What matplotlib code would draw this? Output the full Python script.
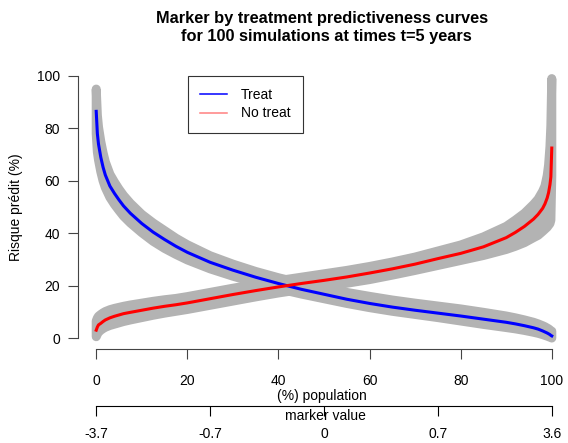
import matplotlib
matplotlib.use('Agg')
import matplotlib.pyplot as plt
from matplotlib.lines import Line2D

plt.rcParams['font.family'] = ['Liberation Sans', 'DejaVu Sans']

# population percentile (%)
pct = [0, 0.25, 0.5, 1, 1.5, 2, 3, 4, 5, 6, 7.5, 10, 12.5, 15, 17.5, 20, 25, 30, 35, 40,
       45, 50, 55, 60, 65, 70, 75, 80, 85, 90, 92, 94, 96, 97, 98, 98.5, 99, 99.3, 99.6, 99.8, 100]

# mean predicted risk, treated arm
treat = [86.5, 78, 74, 69, 65.2, 62.2, 58, 55.2, 52.7, 50.4, 47.6, 43.7, 40.4, 37.6, 35, 32.7, 28.9, 25.9, 23.2, 20.8,
         18.6, 16.7, 14.8, 13.2, 11.8, 10.6, 9.5, 8.4, 7.2, 6, 5.4, 4.7, 3.9, 3.4, 2.7, 2.3, 1.9, 1.6, 1.3, 1.0, 0.8]
# envelope of the 100 simulated curves, treated arm
treat_lo = [78, 71, 68, 63.5, 60, 57.4, 53.7, 51, 48.7, 46.5, 43.9, 40.2, 36.9, 34.2, 31.9, 29.8, 26.4, 23.6, 21.1, 18.8,
            16.8, 15, 13.2, 11.6, 10.2, 9, 7.8, 6.5, 5.2, 4, 3.5, 2.9, 2.2, 1.8, 1.3, 1.0, 0.7, 0.5, 0.3, 0.15, 0]
treat_hi = [95, 85, 80.5, 75, 70.7, 67.2, 62.5, 59.5, 56.8, 54.4, 51.4, 47.2, 43.9, 41, 38.1, 35.6, 31.4, 28.2, 25.4, 23,
            20.9, 19.2, 17.4, 15.9, 14.5, 13.3, 12.2, 11.1, 9.8, 8.4, 7.7, 6.9, 6, 5.4, 4.7, 4.3, 3.8, 3.5, 3.1, 2.8, 2.6]

# mean predicted risk, untreated arm
notreat = [3, 4.2, 5, 5.6, 6.3, 6.9, 7.7, 8.3, 8.8, 9.3, 9.8, 10.6, 11.4, 12.1, 12.7, 13.4, 15, 16.6, 18.1, 19.5,
           20.8, 22, 23.3, 24.8, 26.4, 28.2, 30.3, 32.3, 34.8, 38.3, 40.3, 42.6, 45.4, 47.2, 49.5, 51.2, 53.5, 55.5, 58.5, 61.5, 72.5]
notreat_lo = [0.5, 1.5, 2.2, 3, 3.6, 4.1, 4.8, 5.3, 5.8, 6.3, 6.9, 7.8, 8.7, 9.5, 10.2, 10.9, 12.5, 14.1, 15.7, 17.2,
              18.5, 19.6, 20.9, 22.3, 24, 25.8, 27.7, 29.6, 31.5, 33.8, 35, 36.4, 38.3, 39.2, 40.7, 41.5, 42.3, 43, 43.7, 45, 62]
notreat_hi = [6.5, 7.6, 8.3, 9, 9.6, 10.1, 10.8, 11.3, 11.7, 12.1, 12.6, 13.3, 14, 14.6, 15.1, 15.8, 17.4, 19, 20.5, 21.9,
              23.2, 24.5, 25.8, 27.3, 29, 30.9, 33.2, 35.5, 38.6, 42.6, 45, 47.6, 51, 53, 56, 58, 62, 66, 73, 81, 99]

# marker quantiles on the second axis
marker_pos = [0, 25, 50, 75, 100]
marker_lab = ['-3.7', '-0.7', '0', '0.7', '3.6']

W, H = 568, 443
fig = plt.figure(figsize=(W / 100, H / 100), dpi=100)
ax = fig.add_axes([78 / W, (H - 348.5) / H, (570 - 78) / W, 283 / H])
ax.set_xlim(-4, 104)
ax.set_ylim(-4, 104)

grey = '#b3b3b3'
for lo, hi in [(treat_lo, treat_hi), (notreat_lo, notreat_hi)]:
    ax.fill(pct + pct[::-1], hi + lo[::-1], facecolor=grey, edgecolor=grey,
            lw=6.5, joinstyle='round')

ax.plot(pct, treat, color='#0000ff', lw=2.2)
ax.plot(pct, notreat, color='#ff0000', lw=2.2)

axcol = '#444444'
for s in ['top', 'right']:
    ax.spines[s].set_visible(False)
ax.spines['left'].set_bounds(0, 100)
ax.spines['bottom'].set_bounds(0, 100)
for s in ['left', 'bottom']:
    ax.spines[s].set_color(axcol)
    ax.spines[s].set_linewidth(0.8)
ax.set_xticks([0, 20, 40, 60, 80, 100])
ax.set_yticks([0, 20, 40, 60, 80, 100])
ax.tick_params(axis='x', length=7.2, width=0.8, color=axcol, pad=11.2, labelsize=10)
ax.tick_params(axis='y', length=7.2, width=0.8, color=axcol, pad=5.8, labelsize=10)

sec = ax.secondary_xaxis(-57.2 / 283)
sec.set_xticks(marker_pos, labels=marker_lab)
sec.spines['top'].set_visible(False)
sec.spines['bottom'].set_bounds(0, 100)
sec.spines['bottom'].set_linewidth(0.8)
sec.tick_params(length=7.2, width=0.8, pad=8.3, labelsize=10)

fig.text(322 / W, 1 - 396 / H, '(%) population', ha='center', va='center', fontsize=10)
fig.text(325.5 / W, 1 - 416 / H, 'marker value', ha='center', va='center', fontsize=10)
fig.text(16.5 / W, 1 - 207 / H, 'Risque prédit (%)', rotation=90,
         ha='center', va='center', fontsize=10)

fig.text(322.5 / W, 1 - 23.3 / H, 'Marker by treatment predictiveness curves',
         ha='center', va='baseline', fontsize=11.8, fontweight='bold')
fig.text(326.5 / W, 1 - 40.7 / H, 'for 100 simulations at times t=5 years',
         ha='center', va='baseline', fontsize=11.8, fontweight='bold')

handles = [Line2D([], [], color='#0000ff', lw=1.1),
           Line2D([], [], color='#ff8080', lw=1.1)]
leg = ax.legend(handles, ['Treat', 'No treat'], loc='upper left',
                bbox_to_anchor=(187.7 / W, 1 - 75.7 / H), bbox_transform=fig.transFigure,
                borderaxespad=0, fancybox=False, framealpha=1, edgecolor='#333333',
                handlelength=1.95, handletextpad=1.0, borderpad=0.9, labelspacing=0.3,
                fontsize=10)
leg.get_frame().set_linewidth(0.8)

fig.savefig('out.png', dpi=100)
